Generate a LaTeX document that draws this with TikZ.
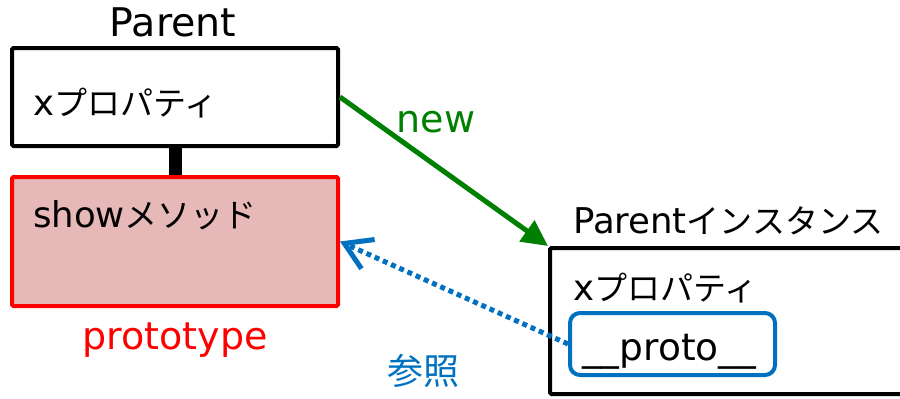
\documentclass[tikz,border=0pt]{standalone}
\usepackage{fontspec}
\setmainfont{DejaVu Sans}
\newfontfamily\jp{Noto Sans CJK JP}[Scale=0.93]
\newfontfamily\jpfull{Noto Sans CJK JP}
\usetikzlibrary{arrows.meta}
\definecolor{pgreen}{HTML}{008000}
\definecolor{pred}{HTML}{FF0000}
\definecolor{pblue}{HTML}{0070C0}
\definecolor{ppink}{HTML}{E6B9B8}
\tikzset{
  box/.style={draw=black, line width=4pt, rounded corners=1.5pt, fill=white, inner sep=0pt},
  protobox/.style={draw=pred, line width=4pt, rounded corners=1.5pt, fill=ppink, inner sep=0pt},
  refbox/.style={draw=pblue, line width=4pt, rounded corners=10pt, fill=white, inner sep=0pt},
  txt/.style={anchor=base west, inner sep=0pt, font=\fontsize{35.5}{40}\selectfont},
  ctxt/.style={anchor=base, inner sep=0pt, font=\fontsize{35.5}{40}\selectfont},
  big/.style={font=\fontsize{38}{44}\selectfont},
  newarrow/.style={draw=pgreen, line width=5pt, -{Triangle[length=26pt,width=25pt]}},
  refarrow/.style={draw=pblue, line width=5pt, dash pattern=on 5pt off 4pt, -{Straight Barb[length=26pt,width=32pt,line width=5pt]}},
}
\begin{document}
\begin{tikzpicture}[x=1pt,y=-1pt]
\useasboundingbox (0,0) rectangle (900,399);
\clip (0,0) rectangle (900,399);
% Parent
\node[box, minimum width=326pt, minimum height=98pt] (parent) at (175,97) {};
\node[ctxt, font=\fontsize{39.5}{44}\selectfont] (parenttitle) at (173,36) {Parent};
\node[txt] (parentx) at (33,115) {x{\jp プロパティ}};
% prototype
\node[protobox, minimum width=326pt, minimum height=129pt] (proto) at (175,241.5) {};
\node[txt] (show) at (33,227) {show{\jp メソッド}};
\node[ctxt, big, text=pred] (protolabel) at (175,349) {prototype};
\draw[line width=13pt] (parent.south) -- (proto.north);
% instance
\node[box, minimum width=380pt, minimum height=146pt] (inst) at (740,321) {};
\node[txt] (insttitle) at (573,233) {Parent{\jp インスタンス}};
\node[txt] (instx) at (573,300) {x{\jp プロパティ}};
\node[refbox, minimum width=205pt, minimum height=62pt] (ref) at (672.5,344) {};
\node[txt, font=\fontsize{37.5}{42}\selectfont] (reftext) at (582,360) {\_\_proto\_\_};
% arrows
\draw[newarrow] (parent.east) -- (inst.north west);
\node[ctxt, big, text=pgreen] (newlabel) at (436,132) {new};
\draw[refarrow] (ref.west) -- (proto.east);
\node[ctxt, text=pblue, font=\jpfull\fontsize{36}{40}\selectfont] (sansho) at (423,384) {参照};
\end{tikzpicture}
\end{document}
